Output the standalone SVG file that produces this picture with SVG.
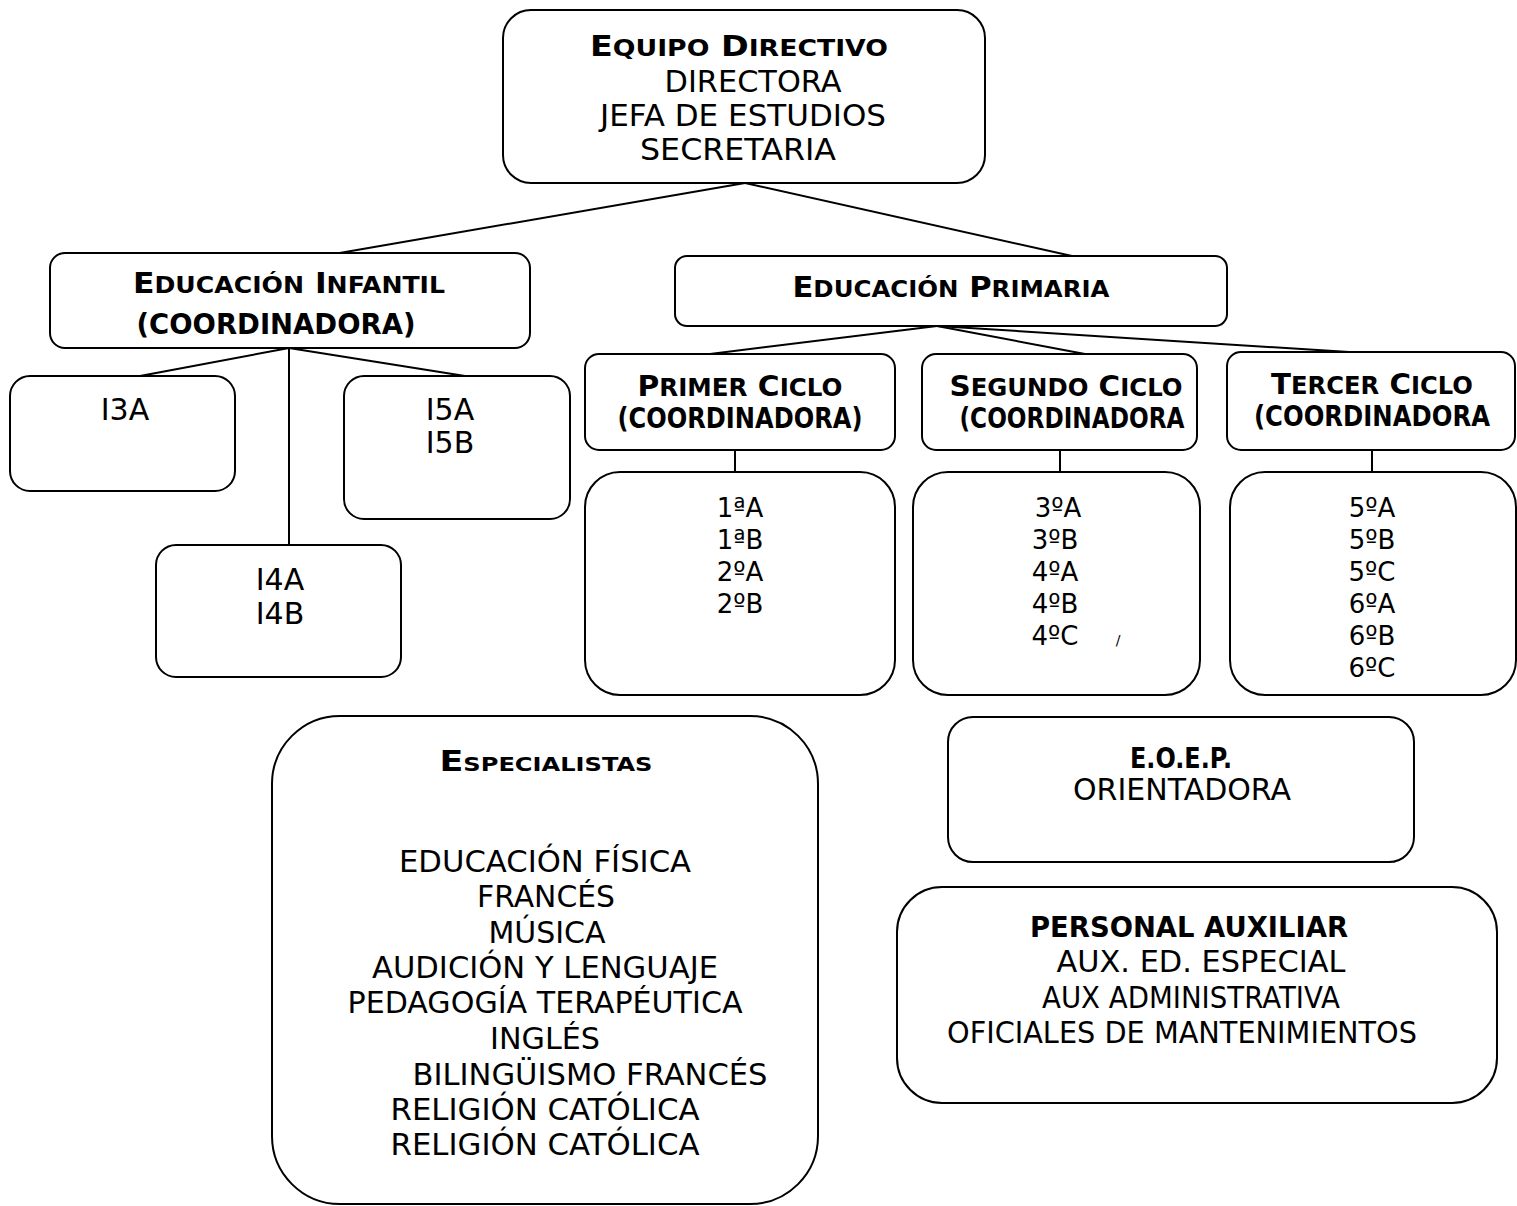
<svg xmlns="http://www.w3.org/2000/svg" width="1517" height="1206" viewBox="0 0 1517 1206">
<style>
.box{fill:#fff;stroke:#000;stroke-width:2}
.ln{stroke:#000;stroke-width:2;fill:none}
text{font-family:"DejaVu Sans","Liberation Sans",sans-serif;fill:#000;text-anchor:middle}
.r{font-size:30px}
.g{font-size:26px}
.b{font-size:29px;font-weight:bold}
.sc{font-size:23.2px}
</style>
<rect width="1517" height="1206" fill="#fff"/>
<g id="connectors">
<line class="ln" x1="745" y1="183" x2="328" y2="255"/>
<line class="ln" x1="745" y1="183" x2="1072" y2="256"/>
<line class="ln" x1="289" y1="348" x2="140" y2="376"/>
<line class="ln" x1="289" y1="348" x2="289" y2="545"/>
<line class="ln" x1="289" y1="348" x2="465" y2="376"/>
<line class="ln" x1="937" y1="326" x2="710" y2="354"/>
<line class="ln" x1="937" y1="326" x2="1085" y2="354"/>
<line class="ln" x1="937" y1="326" x2="1365" y2="353"/>
<line class="ln" x1="735" y1="450" x2="735" y2="472"/>
<line class="ln" x1="1060" y1="450" x2="1060" y2="472"/>
<line class="ln" x1="1372" y1="450" x2="1372" y2="472"/>
</g>
<g id="equipo">
<rect class="box" x="503" y="10" width="482" height="173" rx="28"/>
<text class="b" x="739" y="56" textLength="298" lengthAdjust="spacingAndGlyphs">E<tspan class="sc">QUIPO</tspan>  D<tspan class="sc">IRECTIVO</tspan></text>
<text class="r" x="753" y="92" textLength="177" lengthAdjust="spacingAndGlyphs">DIRECTORA</text>
<text class="r" x="743" y="126" textLength="286" lengthAdjust="spacingAndGlyphs">JEFA DE ESTUDIOS</text>
<text class="r" x="738" y="160" textLength="196" lengthAdjust="spacingAndGlyphs">SECRETARIA</text>
</g>
<g id="infantil">
<rect class="box" x="50" y="253" width="480" height="95" rx="15"/>
<text class="b" x="289" y="293" textLength="312" lengthAdjust="spacingAndGlyphs">E<tspan class="sc">DUCACIÓN</tspan> I<tspan class="sc">NFANTIL</tspan></text>
<text class="b" x="276" y="334" textLength="279" lengthAdjust="spacingAndGlyphs">(COORDINADORA)</text>
</g>
<g id="primaria">
<rect class="box" x="675" y="256" width="552" height="70" rx="12"/>
<text class="b" x="951" y="297" textLength="317" lengthAdjust="spacingAndGlyphs">E<tspan class="sc">DUCACIÓN</tspan> P<tspan class="sc">RIMARIA</tspan></text>
</g>
<g id="i3">
<rect class="box" x="10" y="376" width="225" height="115" rx="20"/>
<text class="r" x="125" y="420">I3A</text>
</g>
<g id="i5">
<rect class="box" x="344" y="376" width="226" height="143" rx="20"/>
<text class="r" x="450" y="420">I5A</text>
<text class="r" x="450" y="453">I5B</text>
</g>
<g id="i4">
<rect class="box" x="156" y="545" width="245" height="132" rx="20"/>
<text class="r" x="280" y="590">I4A</text>
<text class="r" x="280" y="624">I4B</text>
</g>
<g id="primer">
<rect class="box" x="585" y="354" width="310" height="96" rx="14"/>
<text class="b" x="740" y="396" font-size="30" textLength="205" lengthAdjust="spacingAndGlyphs">P<tspan font-size="24">RIMER</tspan> C<tspan font-size="24">ICLO</tspan></text>
<text class="b" x="740" y="428" font-size="25" textLength="245" lengthAdjust="spacingAndGlyphs">(COORDINADORA)</text>
</g>
<g id="segundo">
<rect class="box" x="922" y="354" width="275" height="96" rx="14"/>
<text class="b" x="1066" y="396" font-size="30" textLength="233" lengthAdjust="spacingAndGlyphs">S<tspan font-size="24">EGUNDO</tspan> C<tspan font-size="24">ICLO</tspan></text>
<text class="b" x="1072" y="428" font-size="25" textLength="225" lengthAdjust="spacingAndGlyphs">(COORDINADORA</text>
</g>
<g id="tercer">
<rect class="box" x="1227" y="352" width="288" height="98" rx="14"/>
<text class="b" x="1372" y="394" font-size="30" textLength="202" lengthAdjust="spacingAndGlyphs">T<tspan font-size="24">ERCER</tspan> C<tspan font-size="24">ICLO</tspan></text>
<text class="b" x="1372" y="426" font-size="23" textLength="236" lengthAdjust="spacingAndGlyphs">(COORDINADORA</text>
</g>
<g id="grupos1">
<rect class="box" x="585" y="472" width="310" height="223" rx="35"/>
<text class="g" x="740" y="517">1ªA</text>
<text class="g" x="740" y="549">1ªB</text>
<text class="g" x="740" y="581">2ºA</text>
<text class="g" x="740" y="613">2ºB</text>
</g>
<g id="grupos2">
<rect class="box" x="913" y="472" width="287" height="223" rx="35"/>
<text class="g" x="1058" y="517">3ºA</text>
<text class="g" x="1055" y="549">3ºB</text>
<text class="g" x="1055" y="581">4ºA</text>
<text class="g" x="1055" y="613">4ºB</text>
<text class="g" x="1055" y="645">4ºC</text>
<text x="1118" y="645" font-size="14" fill="#444">/</text>
</g>
<g id="grupos3">
<rect class="box" x="1230" y="472" width="286" height="223" rx="35"/>
<text class="g" x="1372" y="517">5ºA</text>
<text class="g" x="1372" y="549">5ºB</text>
<text class="g" x="1372" y="581">5ºC</text>
<text class="g" x="1372" y="613">6ºA</text>
<text class="g" x="1372" y="645">6ºB</text>
<text class="g" x="1372" y="677">6ºC</text>
</g>
<g id="especialistas">
<rect class="box" x="272" y="716" width="546" height="488" rx="68"/>
<text class="b" x="546" y="771" font-size="25" textLength="213" lengthAdjust="spacingAndGlyphs">E<tspan font-size="20">SPECIALISTAS</tspan></text>
<text class="r" x="545" y="872" textLength="292" lengthAdjust="spacingAndGlyphs">EDUCACIÓN FÍSICA</text>
<text class="r" x="546" y="907" textLength="138" lengthAdjust="spacingAndGlyphs">FRANCÉS</text>
<text class="r" x="547" y="943">MÚSICA</text>
<text class="r" x="545" y="978" textLength="346" lengthAdjust="spacingAndGlyphs">AUDICIÓN Y LENGUAJE</text>
<text class="r" x="545" y="1013" textLength="395" lengthAdjust="spacingAndGlyphs">PEDAGOGÍA TERAPÉUTICA</text>
<text class="r" x="545" y="1049" textLength="110" lengthAdjust="spacingAndGlyphs">INGLÉS</text>
<text class="r" x="590" y="1085" textLength="355" lengthAdjust="spacingAndGlyphs">BILINGÜISMO FRANCÉS</text>
<text class="r" x="545" y="1120" textLength="309" lengthAdjust="spacingAndGlyphs">RELIGIÓN CATÓLICA</text>
<text class="r" x="545" y="1155" textLength="309" lengthAdjust="spacingAndGlyphs">RELIGIÓN CATÓLICA</text>
</g>
<g id="eoep">
<rect class="box" x="948" y="717" width="466" height="145" rx="25"/>
<text class="b" x="1181" y="768" textLength="102" lengthAdjust="spacingAndGlyphs">E.O.E.P.</text>
<text class="r" x="1182" y="800" textLength="218" lengthAdjust="spacingAndGlyphs">ORIENTADORA</text>
</g>
<g id="personal">
<rect class="box" x="897" y="887" width="600" height="216" rx="45"/>
<text class="b" x="1189" y="937" textLength="318" lengthAdjust="spacingAndGlyphs">PERSONAL AUXILIAR</text>
<text class="r" x="1201" y="972" textLength="289" lengthAdjust="spacingAndGlyphs">AUX. ED. ESPECIAL</text>
<text class="r" x="1191" y="1008" textLength="298" lengthAdjust="spacingAndGlyphs">AUX ADMINISTRATIVA</text>
<text class="r" x="1182" y="1043" textLength="470" lengthAdjust="spacingAndGlyphs">OFICIALES DE MANTENIMIENTOS</text>
</g>
</svg>
